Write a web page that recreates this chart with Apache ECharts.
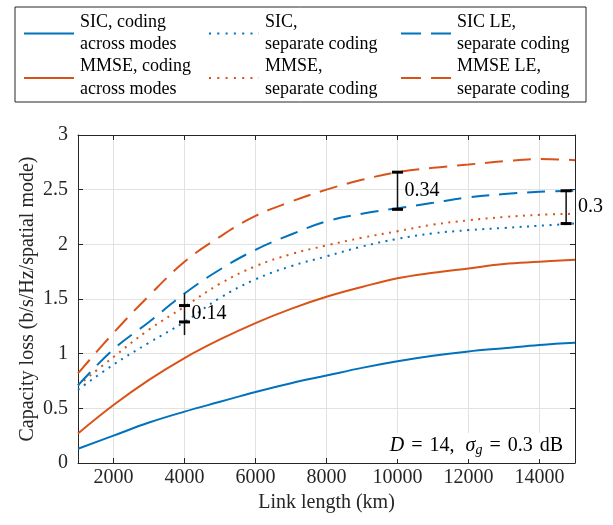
<!DOCTYPE html>
<html>
<head>
<meta charset="utf-8">
<script src="https://cdn.jsdelivr.net/npm/echarts@6/dist/echarts.min.js"></script>
<style>html,body{margin:0;padding:0;background:#fff}#c{width:613px;height:525px}</style>
</head>
<body>
<div id="c"></div>
<script>
// ---- data ----
var linkKm = [1000,2000,3000,4000,5000,6000,7000,8000,9000,10000,11000,12000,13000,14000,15000];
var sicJoint  = [0.13,0.25,0.37,0.47,0.56,0.65,0.73,0.80,0.87,0.93,0.98,1.02,1.05,1.08,1.10];
var mmseJoint = [0.27,0.53,0.76,0.96,1.13,1.28,1.41,1.52,1.61,1.69,1.74,1.78,1.82,1.84,1.86];
var sicSep    = [0.67,0.90,1.10,1.29,1.51,1.68,1.80,1.89,1.98,2.05,2.10,2.13,2.15,2.17,2.19];
var mmseSep   = [0.71,0.97,1.22,1.43,1.64,1.80,1.91,1.99,2.06,2.12,2.18,2.22,2.25,2.27,2.28];
var sicLE     = [0.71,1.04,1.29,1.55,1.77,1.95,2.09,2.21,2.28,2.33,2.38,2.43,2.46,2.48,2.49];
var mmseLE    = [0.82,1.19,1.53,1.84,2.07,2.26,2.39,2.50,2.59,2.66,2.70,2.73,2.76,2.78,2.77];
var seriesNames = ['SIC, coding\nacross modes','MMSE, coding\nacross modes','SIC,\nseparate coding','MMSE,\nseparate coding','SIC LE,\nseparate coding','MMSE LE,\nseparate coding'];
var xTicks = [2000,4000,6000,8000,10000,12000,14000];
// gap annotations
var annotX      = [4000, 10000, 14750];
var annotLow    = [1.29, 2.32, 2.19];
var annotHigh   = [1.44, 2.66, 2.49];
var annotStemLo = [1.17, 2.32, 2.19];
var annotStemHi = [1.55, 2.66, 2.49];
var annotLabel  = ['0.14', '0.34', '0.3'];

var BLUE = '#0072BD', ORANGE = '#D95319', INK = '#262626';
var FONT = '"Liberation Serif","Times New Roman",serif';

function pairs(ys){ return linkKm.map(function(x,i){ return [x, ys[i]]; }); }
function lineSeries(name, ys, color, type){
  return {
    type:'line', name:name, data:pairs(ys), symbol:'none', showSymbol:false, smooth:0.4,
    lineStyle:{color:color, width:2, type:type, cap:'butt'},
    itemStyle:{color:color, opacity:0}, emphasis:{disabled:true}, animation:false
  };
}
var dotted = [2, 5.5], dashed = [18, 10];
var allSeries = [
  lineSeries(seriesNames[0], sicJoint, BLUE, 'solid'),
  lineSeries(seriesNames[1], mmseJoint, ORANGE, 'solid'),
  lineSeries(seriesNames[2], sicSep, BLUE, dotted),
  lineSeries(seriesNames[3], mmseSep, ORANGE, dotted),
  lineSeries(seriesNames[4], sicLE, BLUE, dashed),
  lineSeries(seriesNames[5], mmseLE, ORANGE, dashed)
];

var annotData = annotX.map(function(x,i){ return [x, annotLow[i], annotHigh[i], annotStemLo[i], annotStemHi[i], annotLabel[i]]; });
allSeries.push({
  type:'custom', name:'gap', clip:false, animation:false, silent:true, z:10,
  data: annotData,
  renderItem: function(params, api){
    var x = api.value(0);
    var lo = api.coord([x, api.value(1)]);
    var hi = api.coord([x, api.value(2)]);
    var sLo = api.coord([x, api.value(3)]);
    var sHi = api.coord([x, api.value(4)]);
    var px = lo[0];
    var plotRight = params.coordSys.x + params.coordSys.width;
    var lx = (px + 40 > plotRight) ? plotRight + 3 : px + 7;
    var hw = 5.5;
    return {type:'group', children:[
      {type:'line', shape:{x1:px,y1:sHi[1],x2:px,y2:sLo[1]}, style:{stroke:'#111', lineWidth:1.5}},
      {type:'line', shape:{x1:px-hw,y1:lo[1],x2:px+hw,y2:lo[1]}, style:{stroke:'#000', lineWidth:3}},
      {type:'line', shape:{x1:px-hw,y1:hi[1],x2:px+hw,y2:hi[1]}, style:{stroke:'#000', lineWidth:3}},
      {type:'text', x:lx, y:(lo[1]+hi[1])/2, style:{text:annotData[params.dataIndex][5], fill:'#000', font:'20px '+FONT, verticalAlign:'middle', align:'left'}}
    ]};
  }
});

// legend: one component per item, 3 columns x 2 rows
var legPos = [[23,11],[23,55.5],[208,11],[208,55.5],[400,11],[400,55.5]];
var legDash = ['solid','solid',[2,6.3],[2,6.3],[20,10],[20,10]];
var legends = seriesNames.map(function(n,i){
  return {
    data:[n], left:legPos[i][0], top:legPos[i][1], padding:0, itemWidth:50, itemHeight:14, itemGap:0,
    selectedMode:false, itemStyle:{opacity:0, borderWidth:0},
    lineStyle:{type:legDash[i]},
    textStyle:{fontFamily:FONT, fontSize:18, lineHeight:22.4, color:'#000', padding:[0,0,0,1]}
  };
});

function plain(v){ return String(v); }
var axisLineStyle = {color:INK, width:1};
var option = {
  backgroundColor:'#fff',
  animation:false,
  textStyle:{fontFamily:FONT},
  legend: legends,
  grid:{left:78, right:38, top:135, bottom:62, containLabel:false},
  xAxis:[{
    type:'value', min:1000, max:15000, position:'bottom',
    name:'Link length (km)', nameLocation:'middle', nameGap:30, nameMoveOverlap:false,
    nameTextStyle:{fontFamily:FONT, fontSize:20, color:INK},
    axisLine:{show:true, onZero:false, lineStyle:axisLineStyle},
    axisTick:{show:true, inside:true, length:5, customValues:xTicks, lineStyle:axisLineStyle},
    axisLabel:{customValues:xTicks, formatter:plain, fontFamily:FONT, fontSize:20, color:INK, margin:5},
    splitLine:{show:true, lineStyle:{color:'#e2e2e2', width:1}}
  },{
    type:'value', min:1000, max:15000, position:'top',
    axisLine:{show:true, onZero:false, lineStyle:axisLineStyle},
    axisTick:{show:true, inside:true, length:5, customValues:xTicks, lineStyle:axisLineStyle},
    axisLabel:{show:false}, splitLine:{show:false}
  }],
  yAxis:[{
    type:'value', min:0, max:3, interval:0.5, position:'left',
    name:'Capacity loss (b/s/Hz/spatial mode)', nameLocation:'middle', nameGap:40, nameMoveOverlap:false,
    nameTextStyle:{fontFamily:FONT, fontSize:20, color:INK},
    axisLine:{show:true, onZero:false, lineStyle:axisLineStyle},
    axisTick:{show:true, inside:true, length:5, lineStyle:axisLineStyle},
    axisLabel:{fontFamily:FONT, fontSize:20, color:INK, margin:10},
    splitLine:{show:true, lineStyle:{color:'#e2e2e2', width:1}}
  },{
    type:'value', min:0, max:3, interval:0.5, position:'right',
    axisLine:{show:true, onZero:false, lineStyle:axisLineStyle},
    axisTick:{show:true, inside:true, length:5, lineStyle:axisLineStyle},
    axisLabel:{show:false}, splitLine:{show:false}
  }],
  series: allSeries,
  graphic:[
    {type:'rect', shape:{x:15, y:7, width:571, height:95}, style:{fill:null, stroke:INK, lineWidth:1}, z:-1},
    {type:'text', right:47, top:433, z:5, style:{
      text:'{i|D}{eq|=}14,{sp| }{i|σ}{sub|g}{eq|=}0.3{sp2| }dB',
      font:'20px '+FONT, fill:'#000', backgroundColor:'#fff', padding:[2,3,2,3],
      rich:{
        i:{fontFamily:FONT, fontSize:20, fontStyle:'italic', fill:'#000'},
        eq:{fontFamily:FONT, fontSize:20, fill:'#000', padding:[0,7,0,7]},
        sp:{fontFamily:FONT, fontSize:20, fill:'#000', padding:[0,3,0,3]},
        sp2:{fontFamily:FONT, fontSize:20, fill:'#000', padding:[0,1,0,1]},
        sub:{fontFamily:FONT, fontSize:14, fontStyle:'italic', fill:'#000', verticalAlign:'bottom', padding:[8,0,0,0]}
      }
    }}
  ]
};
var chart = echarts.init(document.getElementById('c'), null, {renderer:'canvas'});
chart.setOption(option);
</script>
</body>
</html>
